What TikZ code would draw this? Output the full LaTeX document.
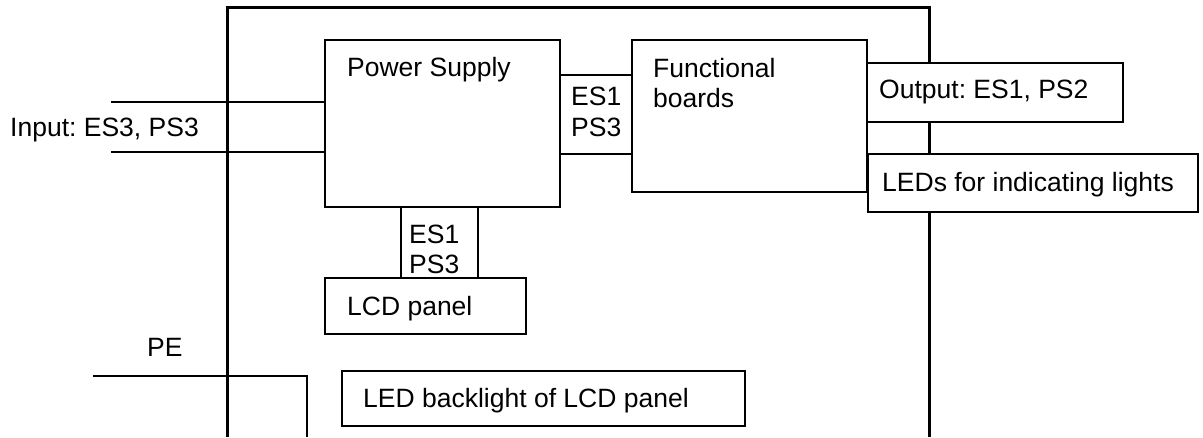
\documentclass[tikz,border=0pt]{standalone}
\usepackage{fontspec}
\setmainfont{Liberation Sans}
\usetikzlibrary{fit}
\frenchspacing

\begin{document}
\begin{tikzpicture}[x=1pt, y=-1pt,
    box/.style={draw, line width=1.5pt, fill=white, inner sep=0pt},
    txt/.style={font=\fontsize{26.5}{30}\selectfont, inner sep=0pt, anchor=base west},
    wire/.style={line width=1.5pt}]
    \useasboundingbox (0,0) rectangle (1203,437);
    \def\frameL{227}
    \def\frameR{929}
    \def\frameT{7}
    % housing
    \draw[line width=3pt] (\frameL,437) -- (\frameL,\frameT) -- (\frameR,\frameT) -- (\frameR,437);
    % boxes
    \node[box, fit={(325,40) (560,207)}] (power) {};
    \node[box, fit={(632,40) (867,192)}] (func) {};
    \node[box, fit={(867,63) (1123,122)}] (output) {};
    \node[box, fit={(868,154) (1198,212)}] (leds) {};
    \node[box, fit={(325,278) (526,334)}] (lcd) {};
    \node[box, fit={(342,371) (745,426)}] (backlight) {};
    % texts
    \node[txt] (powertxt) at (347,76) {Power Supply};
    \node[txt] (functxt) at (653,77) {Functional};
    \node[txt] (boardstxt) at (653,107) {boards};
    \node[txt] (outputtxt) at (879,98) {Output: ES1, PS2};
    \node[txt] (ledstxt) at (882,191) {LEDs for indicating lights};
    \node[txt] (lcdtxt) at (347,315) {LCD panel};
    \node[txt] (backlighttxt) at (363,407) {LED backlight of LCD panel};
    \node[txt] (inputtxt) at (10,136) {Input: ES3, PS3};
    \node[txt] (petxt) at (147,356) {PE};
    \node[txt] (esa) at (571,105) {ES1};
    \node[txt] (psa) at (571,136) {PS3};
    \node[txt] (esb) at (409,243) {ES1};
    \node[txt] (psb) at (409,273) {PS3};
    % input wires
    \foreach \y/\n in {102/inA, 152/inB} {
        \coordinate (\n) at (111,\y);
        \draw[wire] (\n) -- (power.west |- \n);
    }
    % power supply to functional boards
    \foreach \y/\n in {75/busA, 154/busB} {
        \coordinate (\n) at (0,\y);
        \draw[wire] (power.east |- \n) -- (func.west |- \n);
    }
    % power supply to lcd panel
    \foreach \x/\n in {401/lcdA, 478/lcdB} {
        \coordinate (\n) at (\x,0);
        \draw[wire] (power.south -| \n) -- (lcd.north -| \n);
    }
    % protective earth
    \coordinate (pe) at (93,376);
    \coordinate (peend) at (307,437);
    \draw[wire] (pe) -| (peend);
\end{tikzpicture}
\end{document}
